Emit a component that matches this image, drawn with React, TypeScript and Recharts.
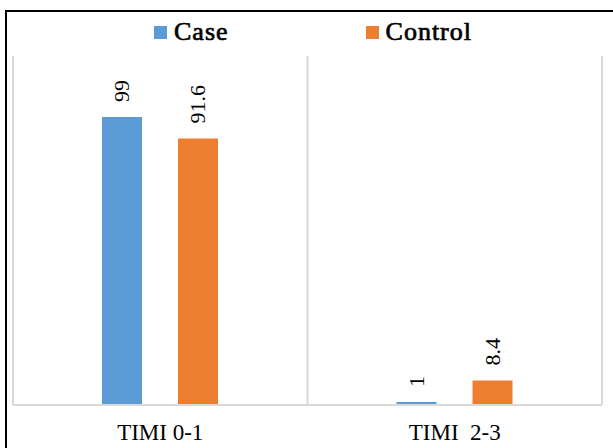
import { BarChart, Bar, XAxis, YAxis, CartesianGrid, LabelList } from "recharts";

const categories = ["TIMI 0-1", "TIMI\u00a0 2-3"];
const caseValues = [99, 1];
const controlValues = [91.6, 8.4];
const seriesNames = ["Case", "Control"];

const CASE_COLOR = "#5b9bd5";
const CONTROL_COLOR = "#ed7d31";
const FONT = "Liberation Serif, Times New Roman, serif";

const data = categories.map((name, i) => ({
  name,
  Case: caseValues[i],
  Control: controlValues[i],
}));

function RotatedLabel(props: any) {
  const { x, y, width, value } = props;
  const cx = x + width / 2;
  const ty = y - 15;
  return (
    <text
      x={cx}
      y={ty}
      transform={`rotate(-90, ${cx}, ${ty})`}
      textAnchor="start"
      dominantBaseline="central"
      style={{ fontFamily: FONT, fontSize: 22 }}
      fill="#000"
    >
      {value}
    </text>
  );
}

// legend drawn as an overlay so it doesn't push the plot down
function LegendBox() {
  const colors = [CASE_COLOR, CONTROL_COLOR];
  return (
    <div style={{ position: "absolute", left: 154, top: 18, display: "flex", alignItems: "center" }}>
      {seriesNames.map((label, i) => (
        <div key={label} style={{ display: "flex", alignItems: "center", marginLeft: i === 0 ? 0 : 137 }}>
          <span style={{ width: 13, height: 13, background: colors[i], display: "inline-block", marginRight: 7 }} />
          <span
            style={{
              fontFamily: FONT,
              fontSize: 26,
              lineHeight: "28px",
              letterSpacing: 1,
              color: "#000",
              WebkitTextStroke: "0.7px #000",
            }}
          >
            {label}
          </span>
        </div>
      ))}
    </div>
  );
}

export default function App() {
  return (
    <div style={{ position: "fixed", left: 0, top: 0, width: 613, height: 448, background: "#fff", overflow: "hidden" }}>
      <div
        style={{
          position: "absolute",
          left: 5,
          top: 10,
          width: 700,
          height: 500,
          borderLeft: "2px solid #000",
          borderTop: "2px solid #000",
        }}
      />
      <div style={{ position: "absolute", left: 0, top: 0 }}>
        <BarChart
          width={613}
          height={448}
          data={data}
          margin={{ top: 56, right: 11, left: 13, bottom: 0 }}
          barSize={40}
          barGap={36}
        >
          <CartesianGrid
            horizontal={false}
            stroke="#d9d9d9"
            strokeWidth={2}
            verticalCoordinatesGenerator={({ offset }: any) => [
              offset.left,
              offset.left + offset.width / 2,
              offset.left + offset.width,
            ]}
          />
          <XAxis
            dataKey="name"
            height={43}
            tickLine={false}
            tickMargin={13}
            axisLine={{ stroke: "#d9d9d9", strokeWidth: 2 }}
            tick={{ fontFamily: FONT, fontSize: 23, fill: "#000" }}
          />
          <YAxis hide domain={[0, 120]} />
          <Bar dataKey="Case" fill={CASE_COLOR} isAnimationActive={false}>
            <LabelList dataKey="Case" content={<RotatedLabel />} />
          </Bar>
          <Bar dataKey="Control" fill={CONTROL_COLOR} isAnimationActive={false}>
            <LabelList dataKey="Control" content={<RotatedLabel />} />
          </Bar>
        </BarChart>
      </div>
      <LegendBox />
    </div>
  );
}
